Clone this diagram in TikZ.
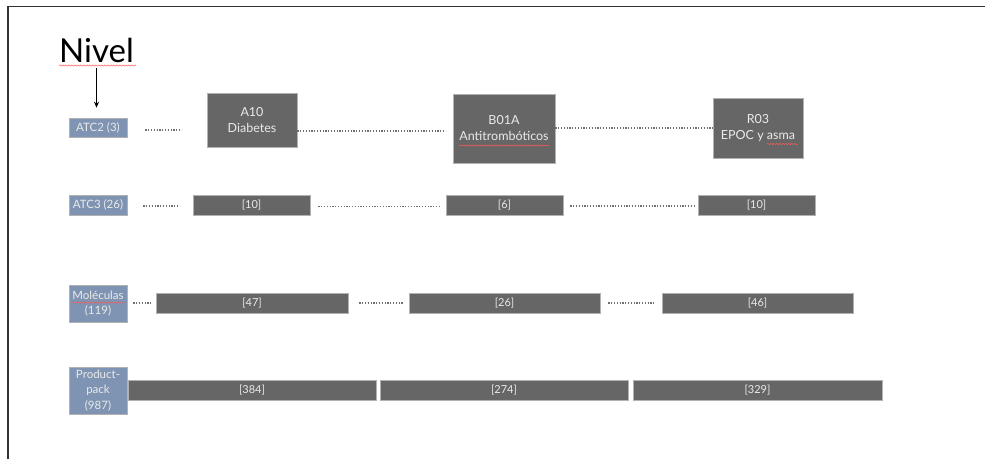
\documentclass[tikz,border=0pt]{standalone}
\usepackage{fontspec}
\setmainfont{Lato}
\usetikzlibrary{arrows.meta,decorations.pathmorphing}

\definecolor{levelblue}{HTML}{7E94B2}
\definecolor{bargray}{HTML}{666666}
\definecolor{bartext}{HTML}{EAEAEA}
\definecolor{dotgray}{HTML}{707070}

\tikzset{
  basebox/.style={rectangle, inner sep=0pt, align=center, text=bartext,
    draw=black!30, line width=0.6pt},
  levelbox/.style={basebox, fill=levelblue, minimum width=58pt,
    font=\fontsize{11.5}{15.5}\selectfont},
  groupbox/.style={basebox, fill=bargray, font=\fontsize{12.5}{16}\selectfont},
  barbox/.style={basebox, fill=bargray, minimum height=20pt,
    font=\fontsize{11}{13}\selectfont},
  dotline/.style={draw=dotgray, line width=1.1pt, dash pattern=on 1.3pt off 1.5pt},
  spellmark/.style={draw=red!65, line width=0.5pt,
    decorate, decoration={snake, segment length=3pt, amplitude=0.6pt}},
}

\begin{document}
\begin{tikzpicture}[x=1pt, y=-1pt]
  \useasboundingbox (0,0) rectangle (985,459);
  \fill[white] (0,0) rectangle (985,459);

  % frame edges
  \draw[line width=1.5pt, black!80] (8,459) -- (8,6.5) -- (985,6.5);

  % heading and arrow
  \node[inner sep=0pt, anchor=base west, font=\fontsize{33}{36}\selectfont] (nivel) at (59,62) {Nivel};
  \draw[spellmark] (59,65.5) -- (136,65.5);

  % level labels
  \node[levelbox, minimum height=19pt] (lvl2) at (98,127.5) {ATC2 (3)};
  \node[levelbox, minimum height=20pt] (lvl3) at (98,205) {ATC3 (26)};
  \node[levelbox, minimum height=37pt] (lvlmol) at (98,303.5) {Moléculas\\(119)};
  \node[levelbox, minimum height=47pt] (lvlpp) at (98,390.5) {Product-\\pack\\(987)};

  \draw[line width=1pt, -{Stealth[length=6pt,width=5pt]}, shorten <=6pt, shorten >=10pt]
    (nivel.south) -- (nivel.south |- lvl2.north);

  % ATC2 groups
  \node[groupbox, minimum width=90pt, minimum height=54pt] (a10) at (252,120) {A10\\Diabetes};
  \node[groupbox, minimum width=102pt, minimum height=69pt] (b01a) at (504,128.5) {B01A\\Antitrombóticos};
  \node[groupbox, minimum width=90pt, minimum height=60pt] (r03) at (758,128) {R03\\EPOC y asma};

  % ATC3 counts
  \node[barbox, minimum width=117pt] (c1) at (251.5,205) {[10]};
  \node[barbox, minimum width=117pt] (c2) at (504.5,205) {[6]};
  \node[barbox, minimum width=117pt] (c3) at (756.5,205) {[10]};

  % molecule counts
  \node[barbox, minimum width=192pt] (m1) at (252,303) {[47]};
  \node[barbox, minimum width=191pt] (m2) at (504.5,303) {[26]};
  \node[barbox, minimum width=191pt] (m3) at (757.5,303) {[46]};

  % product-pack counts
  \node[barbox, minimum width=248pt] (p1) at (252,390) {[384]};
  \node[barbox, minimum width=248pt] (p2) at (504,390) {[274]};
  \node[barbox, minimum width=249pt] (p3) at (757.5,390) {[329]};

  % spelling marks under words
  \draw[spellmark] (459,145.5) -- (549,145.5);
  \draw[spellmark] (767,144) -- (798,144);
  \draw[spellmark] (72,302.5) -- (124,302.5);

  % dotted links, ATC2 row
  \draw[dotline, shorten <=18pt, shorten >=25pt]
    ([yshift=-2.5pt]lvl2.east) -- ([yshift=-10pt]a10.west);
  \draw[dotline, shorten >=7pt]
    ([yshift=-11pt]a10.east) -- ([yshift=-2.5pt]b01a.west);
  \draw[dotline] ([yshift=0.5pt]b01a.east) -- (r03.west);

  % dotted links, ATC3 row
  \draw[dotline, shorten <=16pt, shorten >=13pt] ([yshift=-1pt]lvl3.east) -- ([yshift=-1pt]c1.west);
  \draw[dotline, shorten <=8pt, shorten >=5pt] ([yshift=-1.5pt]c1.east) -- ([yshift=-1.5pt]c2.west);
  \draw[dotline, shorten <=7pt, shorten >=4pt] ([yshift=-1pt]c2.east) -- ([yshift=-1pt]c3.west);

  % dotted links, molecule row
  \draw[dotline, shorten <=6pt, shorten >=4pt] ([yshift=0.5pt]lvlmol.east) -- (m1.west);
  \draw[dotline, shorten <=11pt, shorten >=5pt] (m1.east) -- (m2.west);
  \draw[dotline, shorten <=8pt, shorten >=6pt] (m2.east) -- (m3.west);
\end{tikzpicture}
\end{document}
